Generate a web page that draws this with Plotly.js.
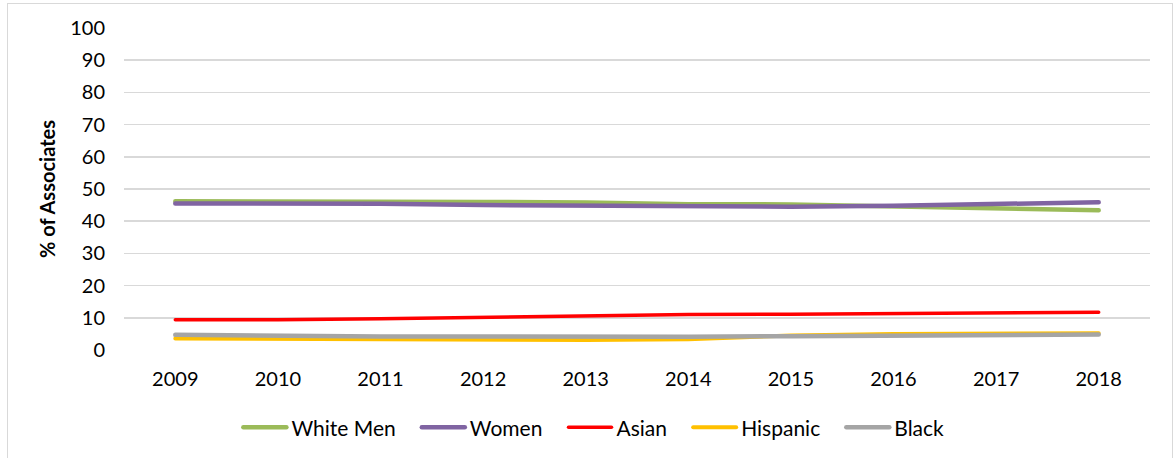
<!DOCTYPE html>
<html>
<head>
<meta charset="utf-8">
<script src="https://cdn.plot.ly/plotly-3.0.1.min.js"></script>
<style>
  html, body { margin: 0; padding: 0; background: #ffffff; }
  #wrap { position: relative; width: 1176px; height: 458px; overflow: hidden; }
  #chart { position: absolute; left: 0; top: 0; width: 1176px; height: 458px; }
  #frame { position: absolute; left: 7px; top: 3px; width: 1164px; height: 480px;
           border: 1.5px solid #d9d9d9; pointer-events: none; }
  .scatterlayer path.js-line, .legendlines path { stroke-linecap: round; }
</style>
</head>
<body>
<div id="wrap">
  <div id="chart"></div>
  <div id="frame"></div>
</div>
<script>
const years = ['2009', '2010', '2011', '2012', '2013', '2014', '2015', '2016', '2017', '2018'];
const whiteMen = [46.2, 46.2, 46.1, 46.0, 45.8, 45.3, 45.2, 44.6, 43.8, 43.4];
const women    = [45.5, 45.5, 45.4, 45.0, 44.8, 44.6, 44.5, 44.8, 45.5, 45.9];
const asian    = [9.4, 9.4, 9.7, 10.1, 10.7, 11.0, 11.1, 11.3, 11.4, 11.7];
const hispanic = [3.6, 3.4, 3.2, 3.1, 3.1, 3.3, 4.5, 5.0, 5.1, 5.2];
const black    = [4.7, 4.4, 4.2, 4.2, 4.1, 4.1, 4.3, 4.4, 4.5, 4.8];
const yTicks = [0, 10, 20, 30, 40, 50, 60, 70, 80, 90, 100];

const seriesNames = ['White Men', 'Women', 'Asian', 'Hispanic', 'Black'];
const seriesData = [whiteMen, women, asian, hispanic, black];
const colors = ['#9BBB59', '#8064A2', '#FF0000', '#FFC000', '#A5A5A5'];
const widths = [4.5, 4.5, 3.5, 4, 4.5];

const pad = '&nbsp;&nbsp;&nbsp;';
const traces = seriesNames.map((name, i) => ({
  type: 'scatter',
  mode: 'lines',
  name: i < seriesNames.length - 1 ? name + pad : name,
  x: years,
  y: seriesData[i],
  line: { color: colors[i], width: widths[i] },
  hoverinfo: 'x+y'
}));

const font = 'Lato, "Open Sans", sans-serif';

const layout = {
  width: 1176,
  height: 458,
  margin: { l: 124, r: 26, t: 28, b: 108, autoexpand: false },
  paper_bgcolor: 'rgba(0,0,0,0)',
  plot_bgcolor: '#ffffff',
  font: { family: font, size: 20, color: '#000000' },
  showlegend: true,
  legend: {
    orientation: 'h',
    xref: 'container',
    x: 0.505, xanchor: 'center',
    yref: 'container',
    y: 0.111, yanchor: 'top',
    font: { family: font, size: 21, color: '#000000' },
    itemwidth: 43,
    tracegroupgap: 0
  },
  xaxis: {
    type: 'category',
    range: [-0.5, 9.5],
    showgrid: false,
    showline: false,
    zeroline: false,
    ticks: '',
    tickfont: { family: font, size: 20, color: '#000000' },
    ticklabelstandoff: 15,
    fixedrange: true
  },
  yaxis: {
    range: [0, 100],
    tickvals: yTicks,
    ticktext: yTicks.map(String),
    showgrid: true,
    gridcolor: '#d9d9d9',
    gridwidth: 1.5,
    zeroline: false,
    showline: false,
    ticks: '',
    tickfont: { family: font, size: 20, color: '#000000' },
    ticklabelstandoff: 18,
    title: { text: '<b>% of Associates</b>', font: { family: font, size: 20, color: '#000000' }, standoff: 9 },
    fixedrange: true
  }
};

Plotly.newPlot('chart', traces, layout, { displayModeBar: false, staticPlot: true });
</script>
</body>
</html>
